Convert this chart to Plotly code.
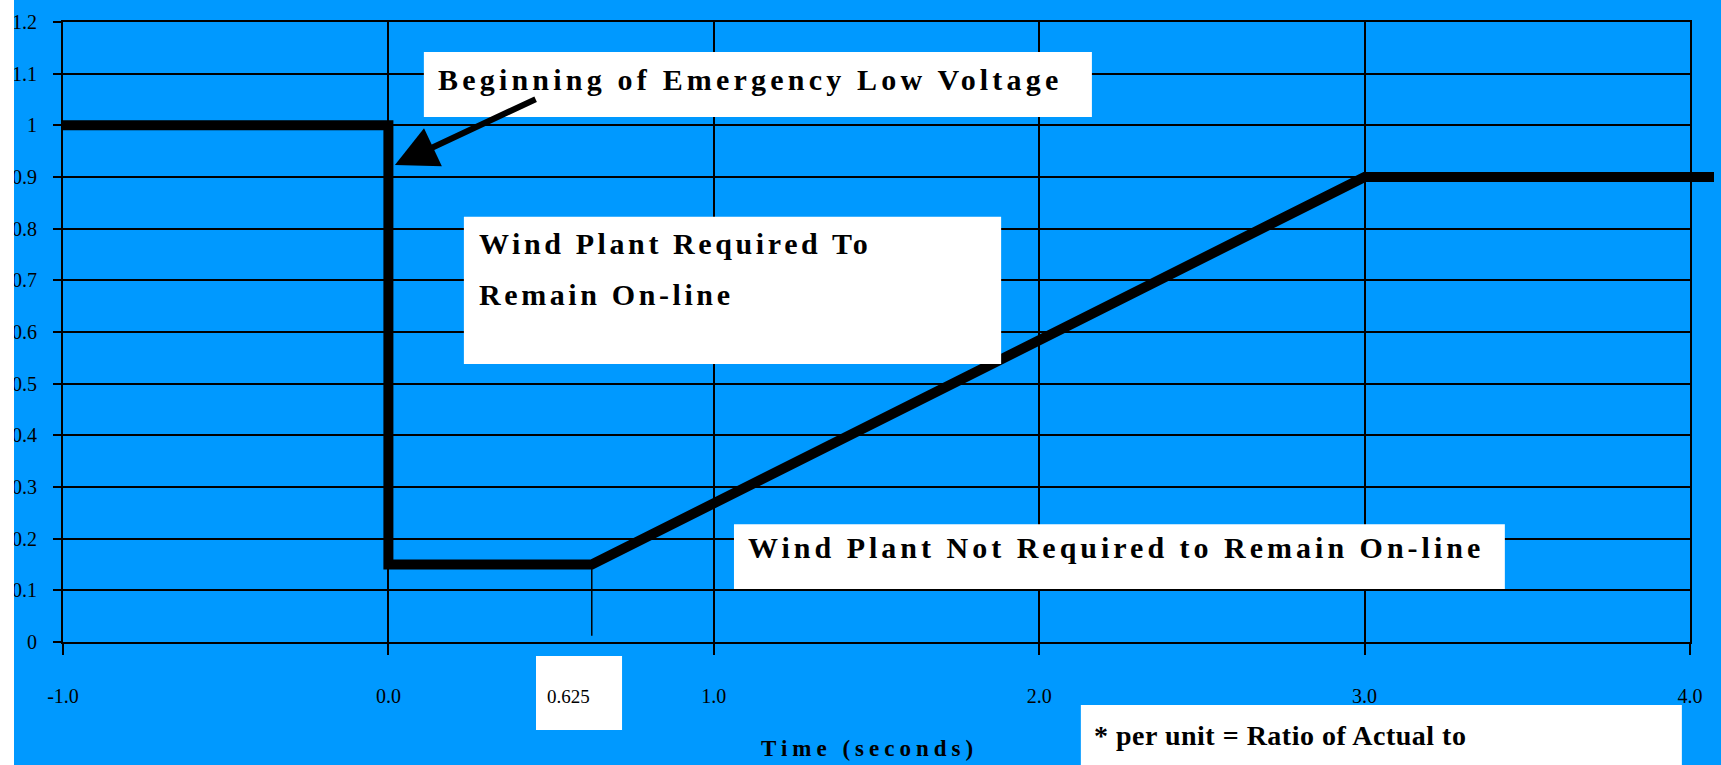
import plotly.graph_objects as go

# ---- data ----
time_s = [-1.0, 0.0, 0.0, 0.625, 3.0, 4.075]
voltage_pu = [1.0, 1.0, 0.15, 0.15, 0.9, 0.9]
marker_time = [0.625, 0.625]
marker_v = [0.15, 0.012]
x_ticks = [-1, 0, 1, 2, 3, 4]
x_ticktext = ["-1.0", "0.0", "1.0", "2.0", "3.0", "4.0"]
y_ticks = [0, 0.1, 0.2, 0.3, 0.4, 0.5, 0.6, 0.7, 0.8, 0.9, 1.0, 1.1, 1.2]
y_ticktext = ["0", "0.1", "0.2", "0.3", "0.4", "0.5", "0.6", "0.7", "0.8", "0.9", "1", "1.1", "1.2"]

BLUE = "#0099FF"
SERIF = "Liberation Serif"

fig = go.Figure()

fig.add_trace(go.Scatter(x=marker_time, y=marker_v, mode="lines",
                         line=dict(color="black", width=1.5),
                         xaxis="x", yaxis="y", showlegend=False, hoverinfo="skip"))
fig.add_trace(go.Scatter(x=time_s, y=voltage_pu, mode="lines",
                         line=dict(color="black", width=10),
                         xaxis="x2", yaxis="y2", showlegend=False))

W, H = 1721, 765
ML, MR, MT, MB = 63, 7, 22, 123
plot_w = W - ML - MR
x_dom_end = (1690 - ML) / plot_w
x2_end = -1 + 5 / x_dom_end

axis_common = dict(showline=True, linecolor="black", linewidth=2, mirror=True,
                   showgrid=True, gridcolor="black", gridwidth=1.5,
                   ticks="outside", tickcolor="black", tickwidth=1.5,
                   zeroline=False, automargin=False,
                   tickfont=dict(family=SERIF, size=20, color="black"))

fig.update_layout(
    width=W, height=H, autosize=False,
    margin=dict(l=ML, r=MR, t=MT, b=MB, pad=0, autoexpand=False),
    paper_bgcolor=BLUE, plot_bgcolor="rgba(0,0,0,0)",
    font=dict(family=SERIF, color="black"),
    xaxis=dict(domain=[0, x_dom_end], range=[-1, 4], tickvals=x_ticks, ticktext=x_ticktext,
               ticklen=11, ticklabelstandoff=24, **axis_common),
    yaxis=dict(domain=[0, 1], range=[0, 1.2], tickvals=y_ticks, ticktext=y_ticktext,
               ticklen=8, ticklabelstandoff=12, **axis_common),
    xaxis2=dict(domain=[0, 1], range=[-1, x2_end], visible=False, anchor="y2"),
    yaxis2=dict(domain=[0, 1], range=[0, 1.2], visible=False, anchor="x2"),
)

# white boxes
boxes = [
    dict(xref="x", yref="y", x0=0.109, x1=2.162, y0=1.016, y1=1.142),
    dict(xref="x", yref="y", x0=0.232, x1=1.883, y0=0.538, y1=0.823),
    dict(xref="x", yref="y", x0=1.062, x1=3.431, y0=0.1026, y1=0.228),
    dict(xref="x", yref="paper", x0=0.4536, x1=0.718, y0=-0.1419, y1=-0.0226),
    dict(xref="x", yref="paper", x0=2.128, x1=3.975, y0=-0.2065, y1=-0.1016),
]
for b in boxes:
    fig.add_shape(type="rect", fillcolor="white", line=dict(width=0), layer="above", **b)
# white strip on left edge
fig.add_shape(type="rect", xref="paper", yref="paper", x0=-0.05, x1=(14 - ML) / plot_w,
              y0=-0.25, y1=1.1, fillcolor="white", line=dict(width=0), layer="above")

def sp(text, ls):
    return f'<span style="letter-spacing:{ls}px">{text}</span>'

big = dict(family=SERIF, size=30, color="black", weight="bold")
ann = [
    dict(x=0.146, y=1.088, xref="x", yref="y", text=sp("Beginning of Emergency Low Voltage", 4.2), font=big),
    dict(x=0.272, y=0.772, xref="x", yref="y", text=sp("Wind Plant Required To", 3.6), font=big),
    dict(x=0.272, y=0.6735, xref="x", yref="y", text=sp("Remain On-line", 3.6), font=big),
    dict(x=1.099, y=0.182, xref="x", yref="y", text=sp("Wind Plant Not Required to Remain On-line", 4.0), font=big),
    dict(x=0.481, y=-0.0871, xref="x", yref="paper", text="0.625",
         font=dict(family=SERIF, size=19, color="black")),
    dict(x=2.162, y=-0.15, xref="x", yref="paper", text=sp("* per unit = Ratio of Actual to", 0.5),
         font=dict(family=SERIF, size=28, color="black", weight="bold")),
]
for a in ann:
    fig.add_annotation(showarrow=False, xanchor="left", yanchor="middle", **a)

fig.add_annotation(x=1.480, y=-0.171, xref="x", yref="paper", showarrow=False,
                   xanchor="center", yanchor="middle",
                   text=sp("Time (seconds)", 5),
                   font=dict(family=SERIF, size=23, color="black", weight="bold"))

# arrow
fig.add_annotation(x=0.02, y=0.923, ax=0.457, ay=1.052, xref="x", yref="y",
                   axref="x", ayref="y", text="", showarrow=True,
                   arrowhead=2, arrowsize=1.4, arrowwidth=6, arrowcolor="black")

fig.write_html("out.html",
               config={"displayModeBar": False, "responsive": False},
               post_script="document.body.style.margin='0';document.body.style.overflow='hidden';")
